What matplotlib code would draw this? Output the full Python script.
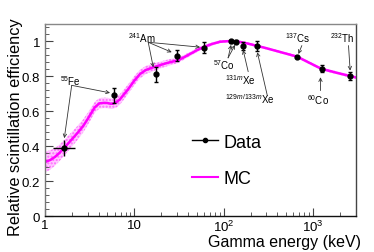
import numpy as np
import matplotlib
matplotlib.use("Agg")
import matplotlib.pyplot as plt
from matplotlib.ticker import FixedLocator, FuncFormatter, NullFormatter
from matplotlib.lines import Line2D

plt.rcParams['font.family'] = ['Liberation Sans', 'DejaVu Sans']
plt.rcParams['mathtext.fontset'] = 'custom'
plt.rcParams['mathtext.rm'] = 'Liberation Sans'
plt.rcParams['mathtext.it'] = 'Liberation Sans:italic'
plt.rcParams['mathtext.bf'] = 'Liberation Sans:bold'

# ---- data ----
data_energy = [1.63, 5.9, 17.5, 29.8, 59.5, 122, 136, 164, 236, 662, 1250, 2614]
data_eff = [0.39, 0.69, 0.812, 0.918, 0.964, 1.0, 0.998, 0.971, 0.973, 0.912, 0.842, 0.80]
data_yerr = [0.045, 0.042, 0.043, 0.03, 0.03, 0.008, 0.008, 0.024, 0.027, 0.006, 0.02, 0.022]
fe_xerr_lo = [0.39]
fe_xerr_hi = [0.52]

mc_energy = [1.0, 1.15, 1.3, 1.45, 1.63, 2.0, 2.35, 2.69, 3.0, 3.3, 3.6, 4.06, 4.6, 5.0, 5.4, 5.73,
             6.3, 6.9, 8.5, 10.0, 11.6, 13.5, 16.3, 19.0, 22.0, 25.0, 29.8, 35.0, 42.0, 50.0, 59.0,
             75.0, 91.0, 110.0, 130.0, 155.0, 181.0, 300.0, 662.0, 1242.0, 2000.0, 3000.0]
mc_eff = [0.31, 0.322, 0.34, 0.362, 0.389, 0.44, 0.48, 0.518, 0.555, 0.59, 0.622, 0.645, 0.648, 0.647, 0.643, 0.643,
          0.652, 0.668, 0.725, 0.775, 0.813, 0.836, 0.851, 0.862, 0.872, 0.88, 0.889, 0.905, 0.927, 0.948, 0.966,
          0.985, 0.997, 1.0, 1.0, 0.995, 0.988, 0.96, 0.912, 0.842, 0.815, 0.793]
mc_err = [0.06, 0.055, 0.05, 0.047, 0.045, 0.042, 0.04, 0.037, 0.035, 0.033, 0.031, 0.03, 0.03, 0.03, 0.03, 0.03,
          0.03, 0.03, 0.028, 0.026, 0.025, 0.023, 0.022, 0.02, 0.019, 0.018, 0.016, 0.014, 0.012, 0.011, 0.01,
          0.009, 0.008, 0.007, 0.007, 0.007, 0.007, 0.007, 0.007, 0.008, 0.008, 0.008]

# annotation labels: (text, text position, arrow start, [arrow targets])
labels = [
    (r'$^{55}$Fe', (1.91, 0.777), (1.99, 0.748), [(1.645, 0.446), (5.34, 0.705)]),
    (r'$^{241}$Am', (12.2, 1.025), (14.3, 0.994), [(16.3, 0.851), (26.2, 0.937), (54.4, 0.966)]),
    (r'$^{57}$Co', (101, 0.870), (112, 0.905), [(121, 0.979), (134, 0.979)]),
    (r'$^{131m}$Xe', (153, 0.785), (188, 0.826), [(165, 0.95)]),
    (r'$^{129m/133m}$Xe', (198, 0.676), (308, 0.689), [(238, 0.937)]),
    (r'$^{137}$Cs', (681, 1.024), (749, 0.975), [(686, 0.927)]),
    (r'$^{60}$Co', (1125, 0.670), (1211, 0.718), [(1211, 0.794)]),
    (r'$^{232}$Th', (2118, 1.024), (2494, 0.975), [(2602, 0.832)]),
]

fig = plt.figure(figsize=(3.74, 2.53), dpi=100)
ax = fig.add_axes([0.1203, 0.1411, 0.951 - 0.1203, 0.9024 - 0.1411])

mc_energy_a = np.array(mc_energy)
mc_eff_a = np.array(mc_eff)
mc_err_a = np.array(mc_err)
ax.fill_between(mc_energy_a, mc_eff_a - mc_err_a, mc_eff_a + mc_err_a,
                facecolor='#ffb3ff', edgecolor='none', alpha=0.7, zorder=1)
ax.fill_between(mc_energy_a, mc_eff_a - mc_err_a, mc_eff_a + mc_err_a,
                facecolor='none', edgecolor='#ff66ff', hatch='.....', linewidth=0, zorder=1)
ax.plot(mc_energy_a, mc_eff_a, color='#ff00ff', lw=1.8, zorder=2)

# Fe point with x error
ax.errorbar(data_energy[:1], data_eff[:1], yerr=[data_yerr[:1], data_yerr[:1]],
            xerr=[fe_xerr_lo, fe_xerr_hi], fmt='o', color='black', ms=3.5,
            elinewidth=1.0, capsize=0, zorder=4)
ax.errorbar(data_energy[1:], data_eff[1:], yerr=data_yerr[1:], fmt='o', color='black', ms=3.5,
            elinewidth=1.0, capsize=1.5, capthick=1.0, zorder=4)

for txt, tpos, start, targets in labels:
    ax.text(tpos[0], tpos[1], txt, fontsize=7, ha='center', va='center', zorder=5)
    for tgt in targets:
        ax.annotate('', xy=tgt, xytext=start,
                    arrowprops=dict(arrowstyle='->', color='#333333', lw=0.6,
                                    shrinkA=0, shrinkB=0, mutation_scale=6), zorder=5)

ax.set_xscale('log')
ax.set_xlim(1, 3000)
ax.set_ylim(0, 1.1)

ax.xaxis.set_major_locator(FixedLocator([1, 10, 100, 1000]))
minor = [m * 10 ** d for d in range(0, 4) for m in range(2, 10) if m * 10 ** d < 3000]
ax.xaxis.set_minor_locator(FixedLocator(minor))
ax.xaxis.set_minor_formatter(NullFormatter())
fmt_map = {1: '1', 10: '10', 100: r'$10^{2}$', 1000: r'$10^{3}$'}
ax.xaxis.set_major_formatter(FuncFormatter(lambda v, p: fmt_map.get(int(round(v)), '')))

ax.yaxis.set_major_locator(FixedLocator([0, 0.2, 0.4, 0.6, 0.8, 1.0]))
ax.yaxis.set_minor_locator(FixedLocator(np.arange(0, 1.1, 0.04)))
ax.yaxis.set_major_formatter(FuncFormatter(lambda v, p: '0' if v == 0 else ('1' if abs(v - 1) < 1e-9 else f'{v:.1f}')))

ax.tick_params(which='both', direction='in', top=False, right=False, labelsize=9.5, color='#444444')
ax.tick_params(which='major', length=6, width=0.8)
ax.tick_params(which='minor', length=3, width=0.6)
ax.tick_params(axis='x', pad=2)

ax.spines['top'].set_color('#888888')
ax.spines['left'].set_color('#777777')
ax.spines['right'].set_color('#444444')
ax.spines['bottom'].set_color('#111111')
for s in ax.spines.values():
    s.set_linewidth(1.0)

ax.set_xlabel('Gamma energy (keV)', fontsize=11.5, ha='right', va='baseline')
ax.xaxis.set_label_coords(1.016, -0.156)
ax.set_ylabel('Relative scintillation efficiency', fontsize=11.8, ha='right', va='bottom')
ax.yaxis.set_label_coords(-0.071, 1.035)

handles = [Line2D([], [], color='black', marker='o', ms=3, lw=1.0),
           Line2D([], [], color='#ff00ff', lw=1.5)]
fig.legend(handles, ['Data', 'MC'], loc='upper left', bbox_to_anchor=(0.5126, 0.468),
           frameon=False, fontsize=13, handlelength=1.48, handletextpad=0.3,
           labelspacing=1.1, borderpad=0, borderaxespad=0)

fig.savefig('out.png', dpi=100)
